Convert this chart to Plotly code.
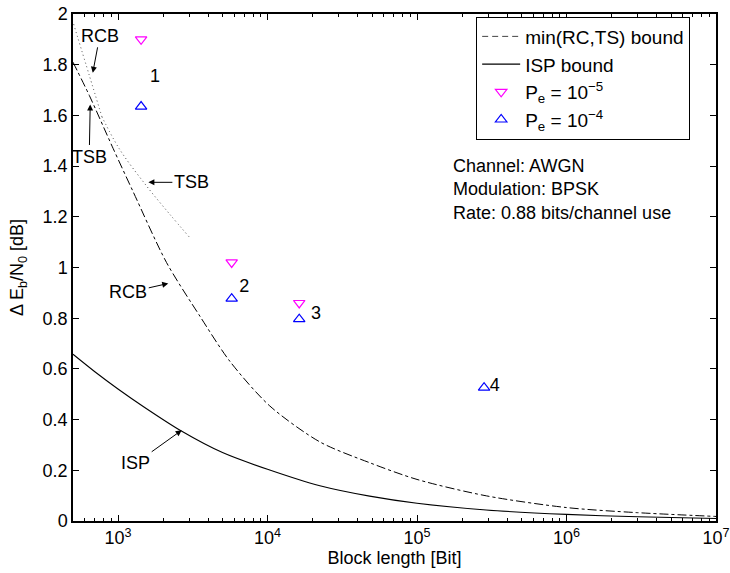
import plotly.graph_objects as go
import math

# ---- data ----
bound_n = [500, 645, 927, 1260, 2110, 3530, 5600, 10350, 22400, 48200, 100000, 292000, 1000000, 2950000, 10000000]
bound_v = [1.81, 1.677, 1.47, 1.30, 1.02, 0.808, 0.63, 0.454, 0.312, 0.230, 0.164, 0.099, 0.053, 0.033, 0.018]

isp_n = [500, 700, 1000, 1500, 2655, 5000, 10000, 22400, 48200, 100000, 290000, 1000000, 3000000, 10000000]
isp_v = [0.658, 0.589, 0.521, 0.449, 0.355, 0.27, 0.204, 0.139, 0.098, 0.070, 0.0435, 0.026, 0.0165, 0.010]

rcb_n = [505, 645, 780]
rcb_v = [1.96, 1.755, 1.595]

tsb_n = [780, 1026, 1550, 2220, 3020]
tsb_v = [1.595, 1.466, 1.322, 1.21, 1.118]

pe5_n = [1427, 5760, 16300]
pe5_v = [1.90, 1.02, 0.86]

pe4_n = [1427, 5760, 16300, 281000]
pe4_v = [1.635, 0.877, 0.796, 0.526]

code_labels = ["1", "2", "3", "4"]
code_label_n = [1766, 6980, 21100, 331000]
code_label_v = [1.748, 0.92, 0.815, 0.53]

x_tick_vals = [1e3, 1e4, 1e5, 1e6, 1e7]
x_tick_text = ["10<sup>3</sup>", "10<sup>4</sup>", "10<sup>5</sup>", "10<sup>6</sup>", "10<sup>7</sup>"]
y_tick_vals = [0, 0.2, 0.4, 0.6, 0.8, 1.0, 1.2, 1.4, 1.6, 1.8, 2.0]
y_tick_text = ["0", "0.2", "0.4", "0.6", "0.8", "1", "1.2", "1.4", "1.6", "1.8", "2"]

FONT = "Liberation Sans, Arial, Helvetica, sans-serif"
FS = 18

fig = go.Figure()

fig.add_trace(go.Scatter(x=bound_n, y=bound_v, mode="lines", name="min(RC,TS) bound",
                         line=dict(color="black", width=1, dash="dashdot", shape="spline", smoothing=0.8),
                         showlegend=False))
# legend proxy for min bound (MATLAB legend shows dashes)
fig.add_trace(go.Scatter(x=[None], y=[None], mode="lines", name="min(RC,TS) bound",
                         line=dict(color="#444444", width=1, dash="6px,4px")))
fig.add_trace(go.Scatter(x=isp_n, y=isp_v, mode="lines", name="ISP bound",
                         line=dict(color="black", width=1.1, shape="spline", smoothing=0.8)))
fig.add_trace(go.Scatter(x=rcb_n, y=rcb_v, mode="lines", name="RCB", showlegend=False,
                         line=dict(color="#444444", width=1, dash="1px,3px", shape="spline")))
fig.add_trace(go.Scatter(x=tsb_n, y=tsb_v, mode="lines", name="TSB", showlegend=False,
                         line=dict(color="#444444", width=1, dash="1px,3px", shape="spline")))
fig.add_trace(go.Scatter(x=pe5_n, y=pe5_v, mode="markers", name="P<sub>e</sub> = 10<sup>\u22125</sup>",
                         marker=dict(symbol="triangle-down-open", size=10, color="magenta",
                                     line=dict(width=1.2, color="magenta"))))
fig.add_trace(go.Scatter(x=pe4_n, y=pe4_v, mode="markers", name="P<sub>e</sub> = 10<sup>\u22124</sup>",
                         marker=dict(symbol="triangle-up-open", size=10, color="blue",
                                     line=dict(width=1.2, color="blue"))))
fig.add_trace(go.Scatter(x=code_label_n, y=code_label_v, mode="text", text=code_labels,
                         textfont=dict(family=FONT, size=FS, color="black"), showlegend=False))

def arrow(text, n, v, ax, ay):
    fig.add_annotation(x=math.log10(n), y=v, xref="x", yref="y", text=text, showarrow=True,
                       ax=ax, ay=ay, arrowhead=2, arrowsize=1.2, arrowwidth=1, arrowcolor="black",
                       standoff=0, startstandoff=0,
                       font=dict(family=FONT, size=FS, color="black"))

arrow("RCB", 678, 1.768, 7, -37)
arrow("TSB", 652, 1.643, -1, 52)
arrow("TSB", 1596, 1.336, 43, 0)
arrow("RCB", 2168, 0.937, -40, 9)
arrow("ISP", 2667, 0.358, -46, 33)

fig.add_annotation(x=0.588, y=0.723, xref="paper", yref="paper", xanchor="left", yanchor="top",
                   align="left", showarrow=False,
                   text="Channel: AWGN<br>Modulation: BPSK<br>Rate: 0.88 bits/channel use",
                   font=dict(family=FONT, size=FS, color="black"))

axis_common = dict(showline=True, linecolor="black", linewidth=1.5, mirror="ticks",
                   ticks="inside", tickcolor="black", ticklen=6, showgrid=False, zeroline=False,
                   automargin=False,
                   tickfont=dict(family=FONT, size=FS, color="black"))

fig.update_xaxes(type="log", range=[math.log10(500), 7], tickvals=x_tick_vals, ticktext=x_tick_text,
                 minor=dict(ticks="inside", ticklen=3, tickcolor="black", dtick="D1", showgrid=False),
                 title=dict(text="Block length [Bit]", font=dict(family=FONT, size=FS), standoff=4),
                 **axis_common)
fig.update_yaxes(range=[0, 2], tickvals=y_tick_vals, ticktext=y_tick_text,
                 title=dict(text="\u0394 E<sub>b</sub>/N<sub>0</sub> [dB]", font=dict(family=FONT, size=FS), standoff=14),
                 **axis_common)

fig.update_layout(
    width=730, height=573,
    margin=dict(l=73, r=14, t=14, b=52, autoexpand=False),
    paper_bgcolor="white", plot_bgcolor="white",
    font=dict(family=FONT, size=FS, color="black"),
    legend=dict(x=0.627, y=0.995, xanchor="left", yanchor="top",
                bordercolor="black", borderwidth=1, bgcolor="white",
                font=dict(family=FONT, size=19), itemwidth=38, tracegroupgap=0,
                entrywidth=182, entrywidthmode="pixels"),
    showlegend=True,
)

fig.write_html("out.html", config={"displayModeBar": False},
               post_script="document.body.style.margin='0px';")
